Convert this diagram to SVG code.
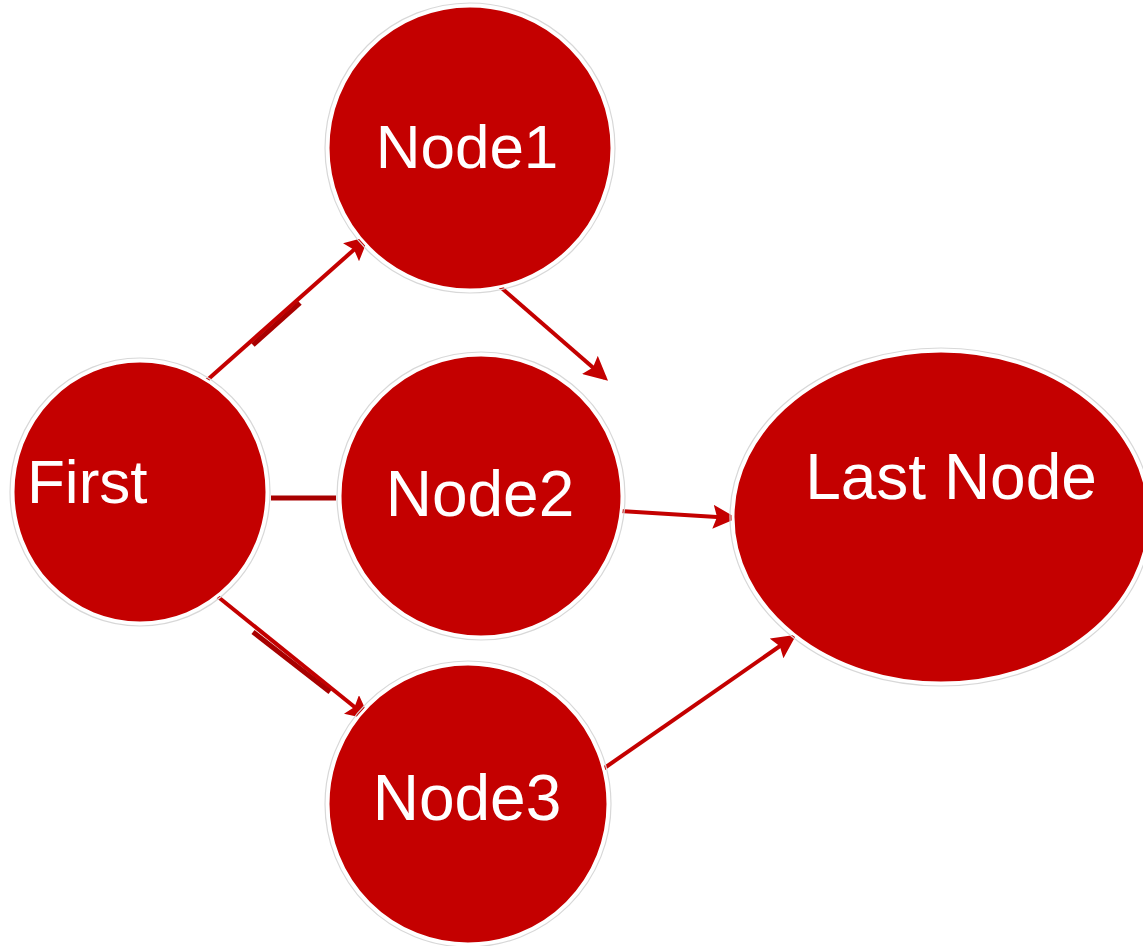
<svg xmlns="http://www.w3.org/2000/svg" width="1143" height="946" viewBox="0 0 1143 946">
<defs>
<style>
.node{fill:#c40000;stroke:#ffffff;stroke-width:3}
.halo{fill:none;stroke:#d8d8d8;stroke-width:1.2}
.lbl{font-family:"Liberation Sans",Arial,sans-serif;font-size:62px;fill:#ffffff}
.big{font-size:64px}
.edge{stroke:#c40000;stroke-width:4;fill:none}
.dark{stroke:#a80000;stroke-width:5;fill:none}
</style>
<marker id="arr" markerWidth="6" markerHeight="6" refX="5" refY="3" orient="auto" markerUnits="strokeWidth">
<path d="M0,0 L6,3 L0,6 L1,3 Z" fill="#c40000"/>
</marker>
</defs>
<rect width="1143" height="946" fill="#ffffff"/>
<g id="connectors">
<line class="edge" x1="205" y1="382" x2="366" y2="239" marker-end="url(#arr)"/>
<line class="dark" x1="253" y1="345" x2="300" y2="303"/>
<line class="edge" x1="497" y1="284" x2="605" y2="378" marker-end="url(#arr)"/>
<line class="dark" x1="271" y1="498" x2="336" y2="498"/>
<line class="edge" x1="620" y1="511" x2="733" y2="518" marker-end="url(#arr)"/>
<line class="edge" x1="217" y1="596" x2="367" y2="717" marker-end="url(#arr)"/>
<line class="dark" x1="253" y1="632" x2="330" y2="692"/>
<line class="edge" x1="603" y1="769" x2="793" y2="637" marker-end="url(#arr)"/>
</g>
<g id="first">
<ellipse class="halo" cx="140" cy="492" rx="130" ry="134"/>
<ellipse class="node" cx="140" cy="492" rx="127" ry="131"/>
<text class="lbl" x="27" y="503">First</text>
</g>
<g id="node1">
<circle class="halo" cx="470" cy="148" r="145"/>
<circle class="node" cx="470" cy="148" r="142"/>
<text class="lbl" x="467" y="168" text-anchor="middle">Node1</text>
</g>
<g id="node2">
<circle class="halo" cx="481" cy="496" r="144"/>
<circle class="node" cx="481" cy="496" r="141"/>
<text class="lbl big" x="480" y="516" text-anchor="middle">Node2</text>
</g>
<g id="node3">
<circle class="halo" cx="468" cy="804" r="143"/>
<circle class="node" cx="468" cy="804" r="140"/>
<text class="lbl big" x="467" y="820" text-anchor="middle">Node3</text>
</g>
<g id="last">
<ellipse class="halo" cx="941" cy="517" rx="211" ry="169"/>
<ellipse class="node" cx="941" cy="517" rx="208" ry="166"/>
<text class="lbl big" x="951" y="499" text-anchor="middle">Last Node</text>
</g>
</svg>
